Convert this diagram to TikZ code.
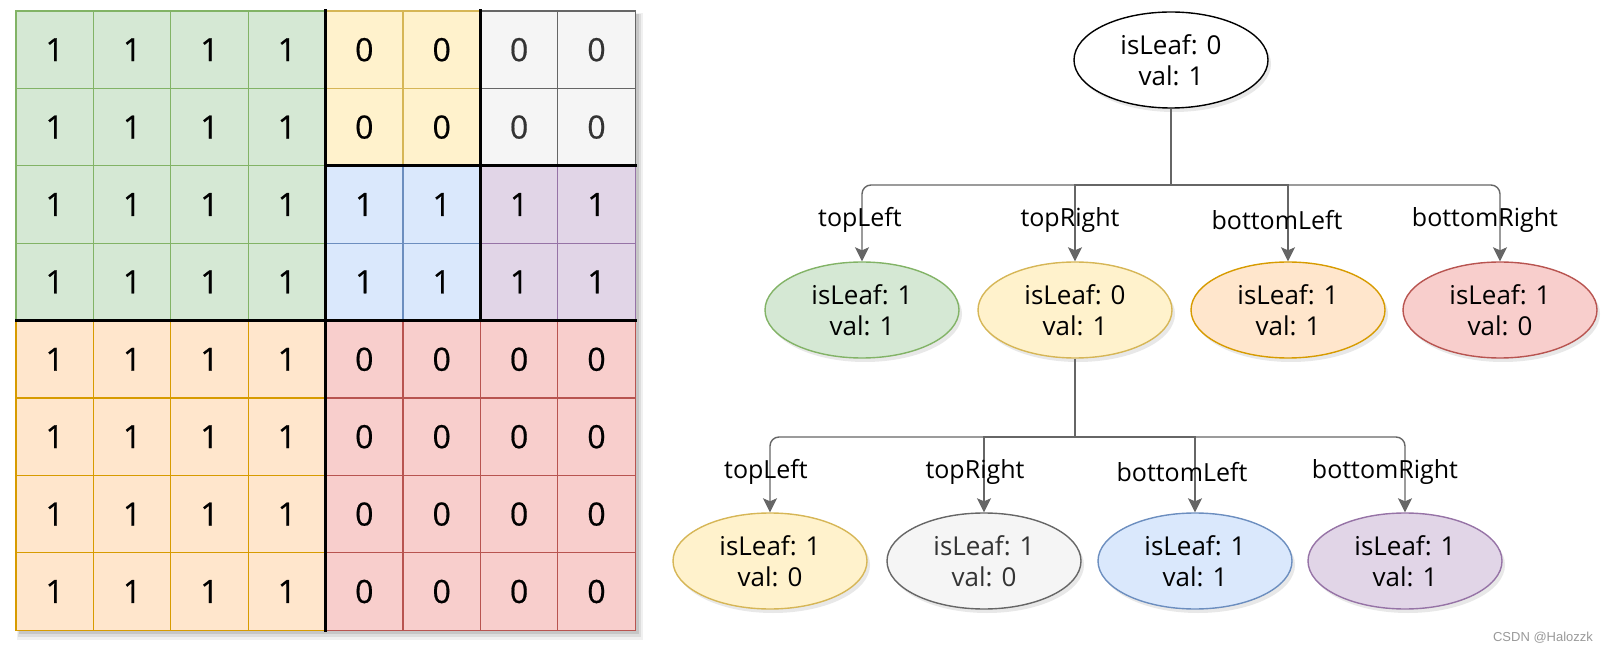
\documentclass[tikz,border=0pt]{standalone}
\usepackage{fontspec}
\setmainfont{Open Sans}
\newfontfamily\heavyfont{Open Sans}[FakeBold=0.6]
\newfontfamily\wmfont{Liberation Sans}
\usetikzlibrary{shapes.geometric,arrows.meta,shadows}

\definecolor{gfill}{HTML}{D5E8D4}\definecolor{gline}{HTML}{82B366}\colorlet{gtext}{black}
\definecolor{yfill}{HTML}{FFF2CC}\definecolor{yline}{HTML}{D6B656}\colorlet{ytext}{black}
\definecolor{sfill}{HTML}{F5F5F5}\definecolor{sline}{HTML}{666666}\definecolor{stext}{HTML}{333333}
\definecolor{bfill}{HTML}{DAE8FC}\definecolor{bline}{HTML}{6C8EBF}\colorlet{btext}{black}
\definecolor{pfill}{HTML}{E1D5E7}\definecolor{pline}{HTML}{9673A6}\colorlet{ptext}{black}
\definecolor{ofill}{HTML}{FFE6CC}\definecolor{oline}{HTML}{D79B00}\colorlet{otext}{black}
\definecolor{rfill}{HTML}{F8CECC}\definecolor{rline}{HTML}{B85450}\colorlet{rtext}{black}
\definecolor{wfill}{HTML}{FFFFFF}\definecolor{wline}{HTML}{000000}\colorlet{wtext}{black}
\definecolor{edgec}{HTML}{666666}

\tikzset{
  celltext/.style={font=\heavyfont\fontsize{32}{36}\selectfont, inner sep=0pt},
  qnode/.style={ellipse, minimum width=194pt, minimum height=96pt, inner sep=0pt,
     align=center, line width=1.4pt, fill=#1fill, draw=#1line, text=#1text,
     font=\fontsize{26}{31}\selectfont,
     drop shadow={shadow xshift=3pt, shadow yshift=-4pt, opacity=0.18}},
  elabel/.style={font=\fontsize{25}{30}\selectfont, inner sep=0pt},
  conn/.style={draw=edgec, line width=1.4pt},
  arrowconn/.style={conn, -{Stealth[length=14pt, width=14pt, inset=3pt]}},
  thickline/.style={line width=3pt, black, line cap=rect},
}

\newcommand\cellblock[6]{%
  \foreach \i in {1,...,#3}{\foreach \j in {1,...,#4}{%
    \pgfmathsetmacro\cx{16+(#1+\i-1)*77.4}%
    \pgfmathsetmacro\cy{11+(#2+\j-1)*77.4}%
    \pgfmathtruncatemacro\cc{#1+\i}%
    \pgfmathtruncatemacro\rr{#2+\j}%
    \draw[fill=#5fill, draw=#5line, line width=1.3pt] (\cx,\cy) rectangle ++(77.4,77.4);
    \node[celltext, text=#5text] (cell-\rr-\cc) at (\cx+38.7,\cy+38.7) {#6};
  }}%
}

\begin{document}
\begin{tikzpicture}[x=1pt, y=-1pt]
\useasboundingbox (0,0) rectangle (1610,652);

% grid shadow
\fill[black, opacity=0.06] (17,13) rectangle (643,640);
\fill[black, opacity=0.08] (18,14) rectangle (641,637);
\fill[black, opacity=0.10] (19,14) rectangle (639,634);

% grid cells
\cellblock{0}{0}{4}{4}{g}{1}
\cellblock{4}{0}{2}{2}{y}{0}
\cellblock{6}{0}{2}{2}{s}{0}
\cellblock{4}{2}{2}{2}{b}{1}
\cellblock{6}{2}{2}{2}{p}{1}
\cellblock{0}{4}{4}{4}{o}{1}
\cellblock{4}{4}{4}{4}{r}{0}

% quadrant borders
\draw[thickline] (325.6,11) -- (325.6,630.2);
\draw[thickline] (16,320.6) -- (635.2,320.6);
\draw[thickline] (480.4,11) -- (480.4,320.6);
\draw[thickline] (325.6,165.8) -- (635.2,165.8);

% tree nodes
\node[qnode=w] (root) at (1171,60) {isLeaf: 0\\val: 1};
\node[qnode=g] (g1) at (862,310) {isLeaf: 1\\val: 1};
\node[qnode=y] (y1) at (1075,310) {isLeaf: 0\\val: 1};
\node[qnode=o] (o1) at (1288,310) {isLeaf: 1\\val: 1};
\node[qnode=r] (r1) at (1500,310) {isLeaf: 1\\val: 0};

\node[qnode=y] (y2) at (770,561) {isLeaf: 1\\val: 0};
\node[qnode=s] (s2) at (984,561) {isLeaf: 1\\val: 0};
\node[qnode=b] (b2) at (1195,561) {isLeaf: 1\\val: 1};
\node[qnode=p] (p2) at (1405,561) {isLeaf: 1\\val: 1};

% connectors level 1
\coordinate (bus1) at (1171,185);
\draw[conn] (root.south) -- (bus1);
\draw[arrowconn, rounded corners=9pt] (bus1) -| (g1.north);
\draw[arrowconn] (bus1) -| (y1.north);
\draw[arrowconn] (bus1) -| (o1.north);
\draw[arrowconn, rounded corners=9pt] (bus1) -| (r1.north);

% connectors level 2
\coordinate (bus2) at (1075,437);
\draw[conn] (y1.south) -- (bus2);
\draw[arrowconn, rounded corners=9pt] (bus2) -| (y2.north);
\draw[arrowconn] (bus2) -| (s2.north);
\draw[arrowconn] (bus2) -| (b2.north);
\draw[arrowconn, rounded corners=9pt] (bus2) -| (p2.north);

% edge labels
\node[elabel] (l1a) at (860,220) {topLeft};
\node[elabel] (l1b) at (1070,220) {topRight};
\node[elabel] (l1c) at (1277,220) {bottomLeft};
\node[elabel] (l1d) at (1485,220) {bottomRight};
\node[elabel] (l2a) at (766,472) {topLeft};
\node[elabel] (l2b) at (975,472) {topRight};
\node[elabel] (l2c) at (1182,472) {bottomLeft};
\node[elabel] (l2d) at (1385,472) {bottomRight};

% watermark
\node[font=\wmfont\fontsize{13}{15}\selectfont, text=black!40, inner sep=0pt] (wm) at (1543,638) {CSDN @Halozzk};
\end{tikzpicture}
\end{document}
